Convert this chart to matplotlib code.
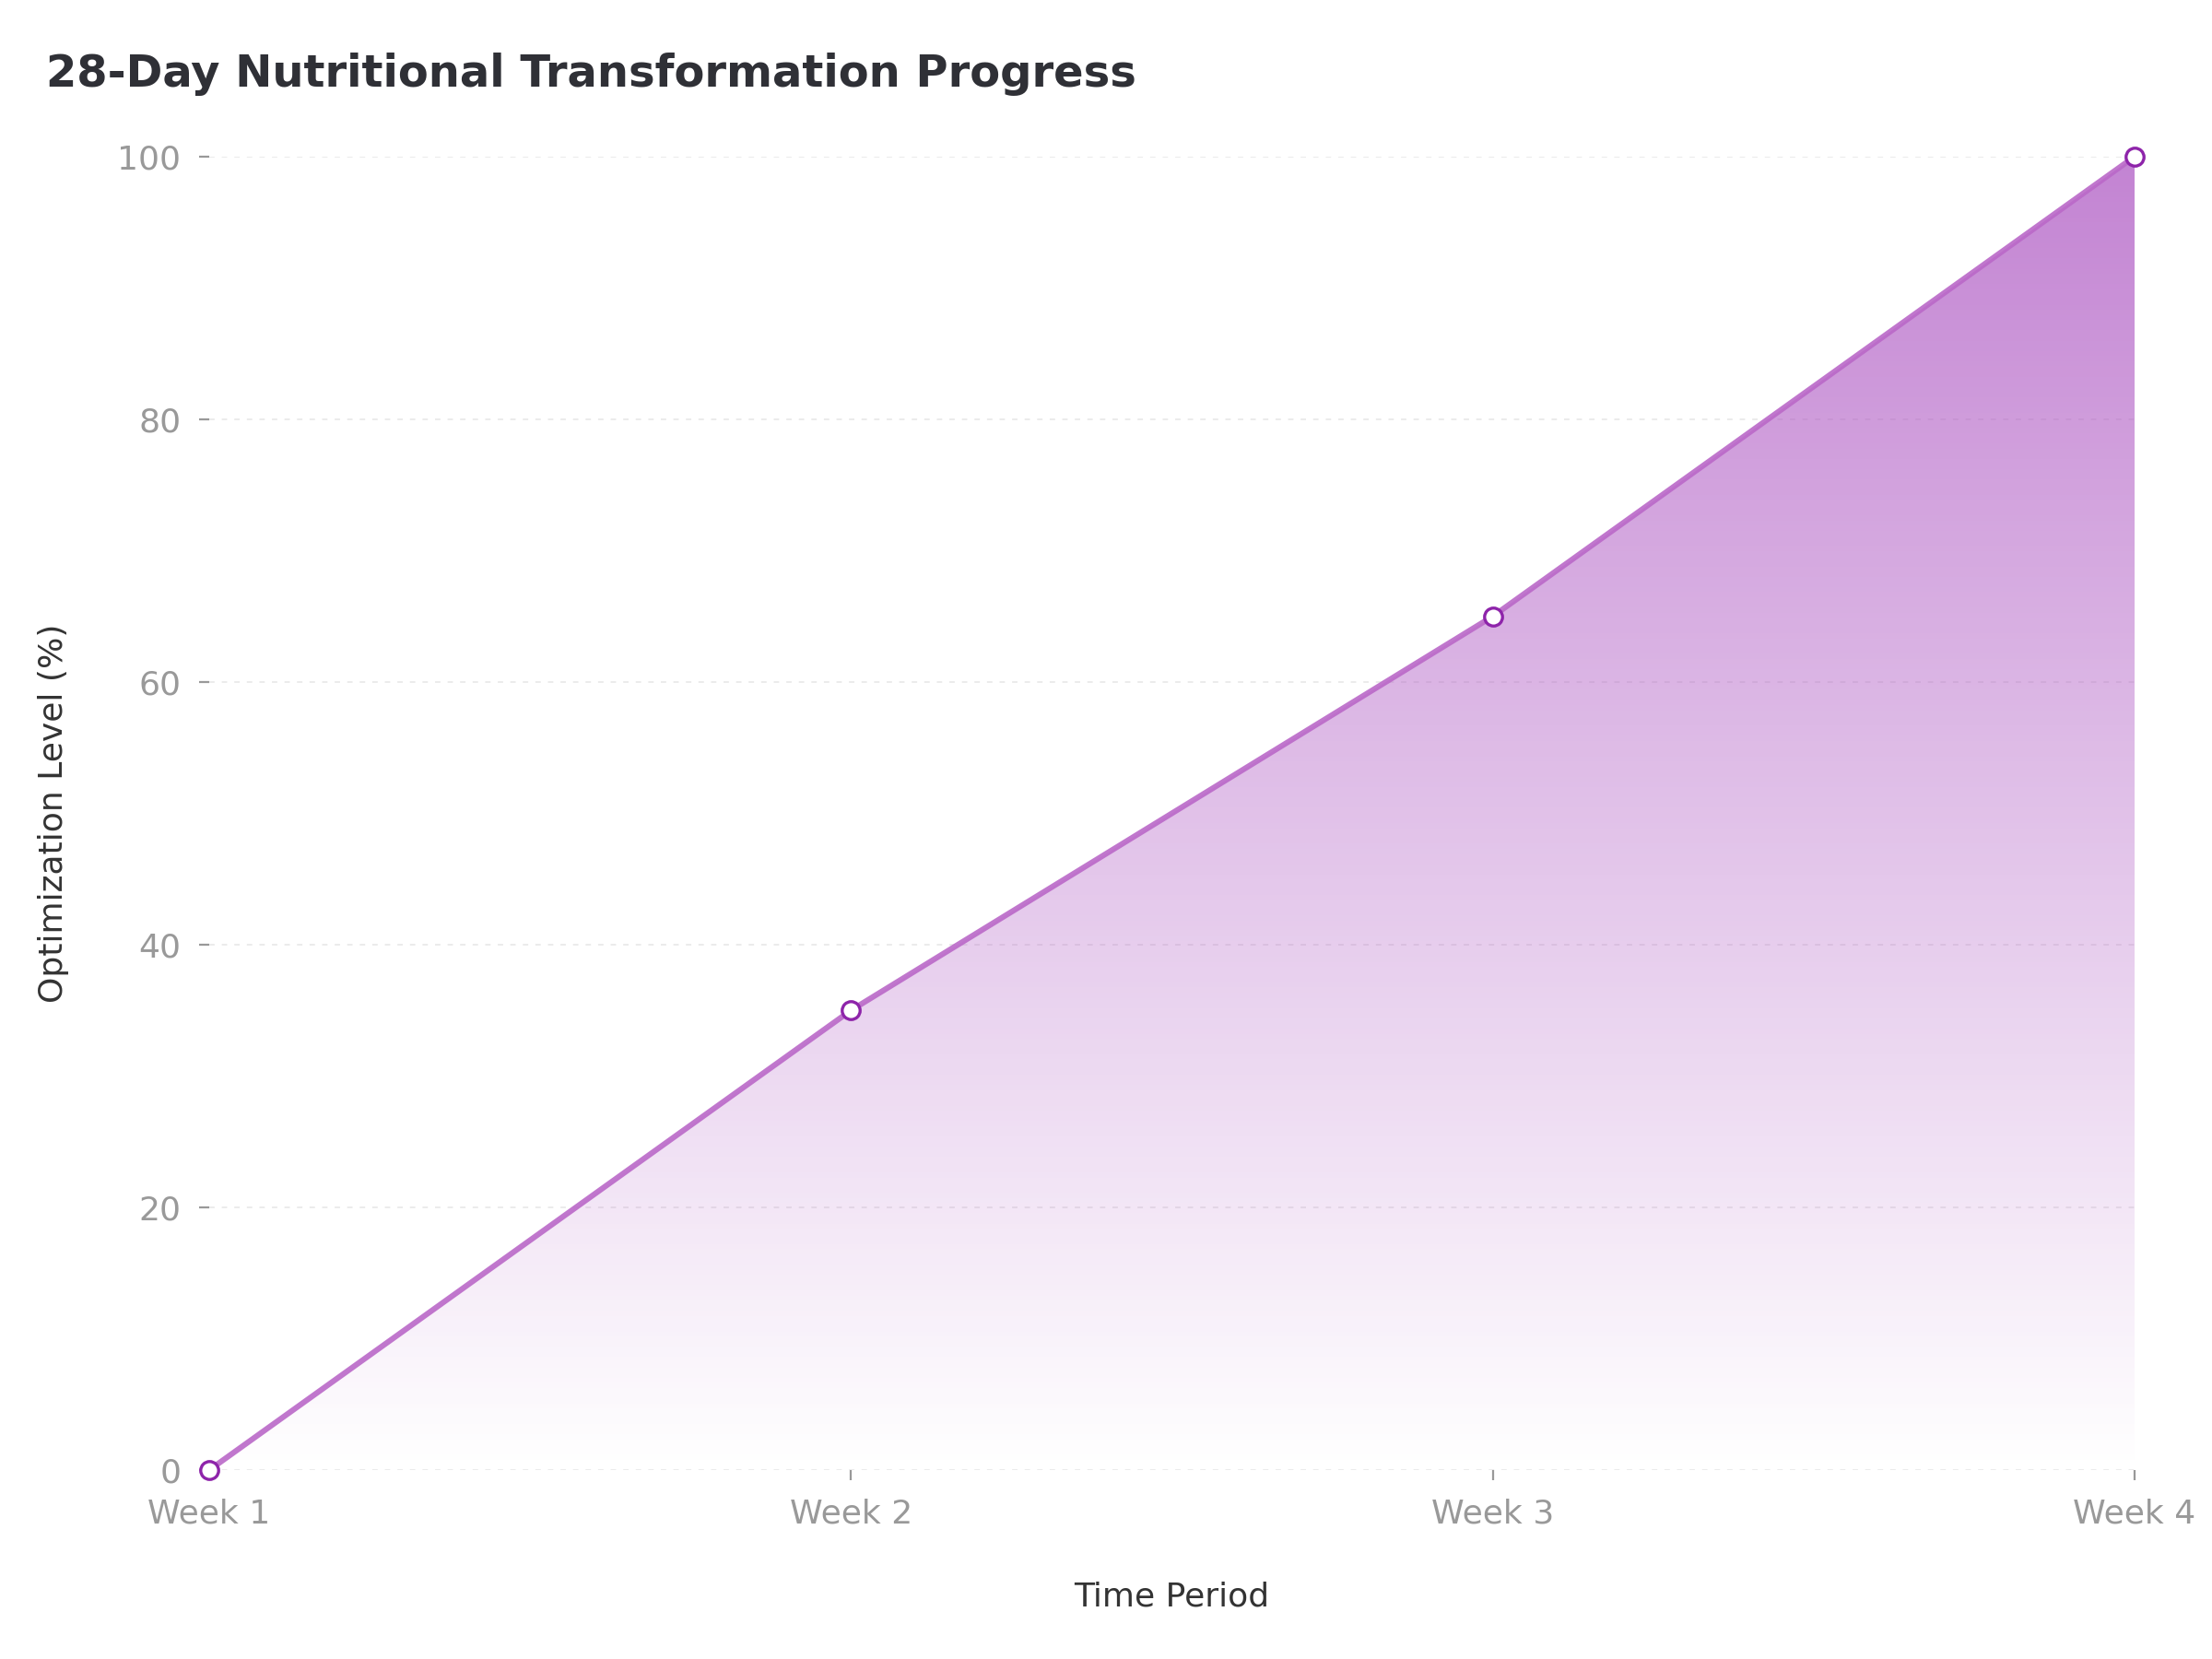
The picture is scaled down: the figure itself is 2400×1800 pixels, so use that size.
import numpy as np
import matplotlib
matplotlib.use("Agg")
import matplotlib.pyplot as plt
from matplotlib.colors import LinearSegmentedColormap
from matplotlib.patches import Polygon

weeks = ["Week 1", "Week 2", "Week 3", "Week 4"]
levels = [0, 35, 65, 100]
yticks = [0, 20, 40, 60, 80, 100]

plt.rcParams['font.family'] = ['DejaVu Sans']
fig = plt.figure(figsize=(12, 9), dpi=200)
ax = fig.add_axes([0.0946, 0.1139, 0.8704, 0.7917])

x = np.arange(len(weeks))
y = np.array(levels, dtype=float)

# gradient fill under the line
pc = (0.70, 0.38, 0.78)
cmap = LinearSegmentedColormap.from_list("grad", [(*pc, 0.0), (*pc, 0.78)])
grad = np.linspace(0, 1, 256).reshape(-1, 1)
im = ax.imshow(grad, extent=[x[0], x[-1], 0, 100], origin="lower", aspect="auto",
               cmap=cmap, zorder=1)
verts = list(zip(x, y)) + [(x[-1], 0), (x[0], 0)]
poly = Polygon(verts, closed=True, facecolor="none", edgecolor="none")
ax.add_patch(poly)
im.set_clip_path(poly)

ax.plot(x, y, color="#BA68C8", lw=2.2, alpha=0.9, zorder=3, solid_capstyle="round")
ax.plot(x, y, linestyle="none", marker="o", markersize=7, markerfacecolor="white",
        markeredgecolor="#8E24AA", markeredgewidth=1.2, zorder=4, clip_on=False)

ax.set_xlim(x[0], x[-1])
ax.set_ylim(0, 100)
ax.set_xticks(x)
ax.set_xticklabels(weeks)
ax.set_yticks(yticks)

for s in ax.spines.values():
    s.set_visible(False)
ax.tick_params(axis="both", colors="#999999", labelsize=13, length=4, width=0.8, pad=7)
ax.yaxis.grid(True, linestyle=(0, (3, 4)), color="#EBEBEB", linewidth=0.7)
ax.set_axisbelow(True)

ax.set_xlabel("Time Period", fontsize=13, color="#333333", labelpad=20)
ax.set_ylabel("Optimization Level (%)", fontsize=13, color="#333333", labelpad=19)

fig.text(0.021, 0.955, "28-Day Nutritional Transformation Progress", fontsize=17.3,
         fontweight="bold", color="#2F3036", ha="left", va="center")

fig.savefig("out.png", dpi=200, facecolor="white")
